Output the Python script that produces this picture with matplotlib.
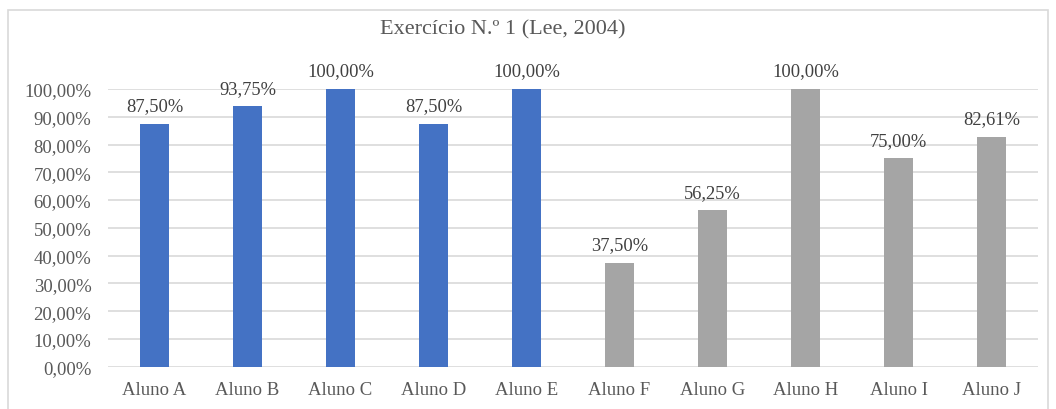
# Exercício N.º 1 (Lee, 2004) - bar chart of student scores
import matplotlib.pyplot as plt
from matplotlib.patches import Rectangle
from matplotlib.ticker import FuncFormatter

alunos = ["Aluno A", "Aluno B", "Aluno C", "Aluno D", "Aluno E",
          "Aluno F", "Aluno G", "Aluno H", "Aluno I", "Aluno J"]
percent = [87.50, 93.75, 100.00, 87.50, 100.00,
           37.50, 56.25, 100.00, 75.00, 82.61]
grupo = ["A"] * 5 + ["B"] * 5

CORES = {"A": "#4472C4", "B": "#A5A5A5"}
TXT = "#595959"

plt.rcParams["font.family"] = ["Liberation Serif", "DejaVu Serif"]

def fmt_pct(v, _pos=None):
    return f"{v:.2f}".replace(".", ",") + "%"

fig = plt.figure(figsize=(10.56, 4.10), dpi=100)
ax = fig.add_axes([108 / 1056, 1 - 367.7 / 410, 930 / 1056, 277.7 / 410])

x = range(len(alunos))
bars = ax.bar(x, percent, width=0.31, color=[CORES[g] for g in grupo], zorder=3)

for b, v in zip(bars, percent):
    ax.annotate(fmt_pct(v), (b.get_x() + b.get_width() / 2, v),
                xytext=(0, 7), textcoords="offset points",
                ha="center", va="bottom", fontsize=13.3, color="#404040")

ax.set_xlim(-0.5, len(alunos) - 0.5)
ax.set_ylim(0, 100)
ax.set_yticks(range(0, 101, 10))
ax.yaxis.set_major_formatter(FuncFormatter(fmt_pct))
ax.set_xticks(list(x))
ax.set_xticklabels(alunos)
ax.tick_params(axis="both", length=0, labelsize=13.5, labelcolor=TXT)
ax.tick_params(axis="x", pad=10)
ax.tick_params(axis="y", pad=12)
ax.grid(axis="y", color="#D9D9D9", linewidth=1.2, zorder=0)
for s in ax.spines.values():
    s.set_visible(False)

fig.text(503 / 1056, 1 - 30 / 410, "Exercício N.º 1 (Lee, 2004)",
         ha="center", va="center", fontsize=16, color=TXT)

# chart frame
fig.add_artist(Rectangle((8 / 1056, -0.02), 1040 / 1056, 1 - 11 / 410 + 0.02,
                         transform=fig.transFigure, fill=False,
                         edgecolor="#D9D9D9", linewidth=1.2))

fig.savefig("out.png", dpi=100)
